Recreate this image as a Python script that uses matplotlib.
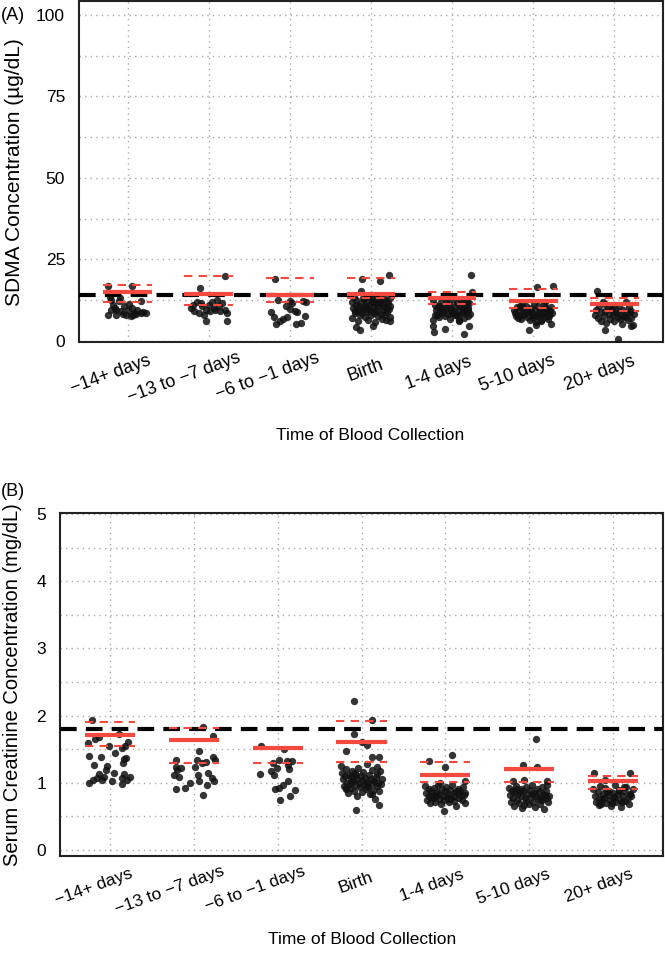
import matplotlib
matplotlib.use("Agg")
import matplotlib.pyplot as plt
import matplotlib.transforms as mtrans
import numpy as np

plt.rcParams['font.family'] = ['Liberation Sans', 'DejaVu Sans']

groups = ['\u221214+ days', '\u221213 to \u22127 days', '\u22126 to \u22121 days',
          'Birth', '1-4 days', '5-10 days', '20+ days']

# ---- panel A: SDMA (ug/dL) ----
sdma_vals = [
    [16.9, 16.9, 12.3, 13.5, 11.0, 9.5, 8.0, 7.8, 8.3, 9.3,
     7.6, 8.2, 8.5, 8.6, 10.5, 12.2, 12.4, 11.3, 9.0, 8.0,
     9.4, 7.9, 8.8, 10.0, 8.6, 13.0, 10.0, 9.5],
    [20.0, 16.2, 6.0, 6.0, 10.0, 9.0, 8.5, 10.5, 9.5, 11.0,
     12.0, 9.5, 10.5, 11.5, 9.5, 11.0, 12.0, 8.0, 10.0, 12.5,
     8.5, 9.0, 11.5, 9.0],
    [19.0, 12.5, 12.2, 8.8, 7.2, 5.0, 6.6, 7.4, 9.7, 9.2,
     11.5, 12.1, 7.7, 5.2, 5.4, 8.7, 10.5, 6.0, 11.8],
    [19.0, 18.2, 20.3, 15.2, 4.2, 3.4, 4.4, 6.0,
     11.8, 10.0, 8.5, 7.0, 12.5, 9.2, 10.8, 6.2, 8.0, 11.5,
     13.2, 9.8, 7.2, 10.5, 12.0, 8.8, 6.5, 11.0, 9.5, 13.0,
     7.8, 10.2, 12.3, 8.5, 5.8, 11.2, 9.0, 13.5, 7.5, 10.5,
     12.0, 8.2, 6.8, 11.0, 9.5, 13.0, 7.8, 10.0, 12.2, 8.8,
     11.5, 9.8, 13.2, 7.2, 10.8, 13.5, 11.0, 12.8, 11.8, 12.8,
     9.8, 10.0, 9.5, 10.2, 9.0, 8.5, 11.5, 13.8, 6.5, 9.0],
    [20.3, 14.8, 2.6, 3.6, 2.1, 4.6, 4.6, 6.3,
     12.5, 11.0, 9.5, 8.0, 10.2, 7.2, 11.8, 9.0, 8.5, 10.8,
     7.5, 12.0, 9.8, 8.2, 11.2, 6.8, 10.0, 8.8, 12.8, 9.2,
     7.8, 10.5, 11.5, 8.0, 9.5, 6.5, 10.8, 12.2, 8.5, 9.0,
     11.0, 7.0, 10.2, 8.8, 12.0, 9.5, 7.5, 11.5, 8.2, 10.0,
     9.0, 13.0, 7.8, 10.5, 8.5, 11.8, 9.8, 6.0, 10.0, 8.0],
    [16.4, 16.8, 3.2, 4.7, 5.2,
     9.5, 8.5, 7.5, 10.2, 8.0, 9.0, 6.8, 11.0, 7.8, 9.8,
     8.2, 10.5, 7.2, 9.2, 8.8, 6.5, 10.0, 8.5, 7.0, 11.5,
     9.5, 8.0, 7.5, 10.8, 8.6, 9.0, 6.2, 7.8, 9.8, 8.3,
     11.2, 7.3, 8.9, 10.0, 9.4, 6.8, 8.1, 7.6, 9.1, 10.4,
     8.4, 7.0, 9.6, 5.8, 8.7, 11.8, 7.9, 9.3, 6.4, 10.6],
    [15.4, 0.6, 3.2, 4.4,
     8.0, 9.5, 7.0, 10.5, 6.2, 8.8, 11.8, 7.5, 9.0, 5.5,
     10.0, 8.2, 6.8, 9.8, 7.8, 11.0, 6.0, 8.5, 9.2, 7.2,
     10.8, 8.0, 5.0, 9.5, 7.6, 12.0, 8.6, 6.5, 10.2, 7.0,
     9.0, 4.8, 8.3, 11.2, 6.8, 9.6, 7.4, 8.9],
]
sdma_jitter = [
    [-0.24, 0.05, 0.16, -0.22, -0.18, -0.14, -0.24, -0.15, -0.06, 0.0,
     0.04, 0.1, 0.16, 0.22, -0.04, -0.11, -0.2, 0.02, -0.08, 0.07,
     0.12, -0.02, 0.19, -0.16, 0.08, -0.1, 0.05, -0.2],
    [0.2, -0.11, -0.03, 0.23, -0.22, -0.18, -0.12, -0.08, -0.04, 0.0,
     0.04, 0.08, 0.12, 0.16, 0.2, -0.2, -0.15, -0.06, 0.06, 0.1,
     0.22, 0.14, -0.1, 0.02],
    [-0.18, -0.15, 0.0, -0.23, -0.19, -0.17, -0.09, -0.04, 0.0, 0.06,
     0.02, 0.16, 0.19, 0.07, 0.14, 0.09, -0.05, -0.12, 0.2],
    [-0.11, 0.11, 0.22, -0.12, -0.18, -0.14, 0.02, 0.23,
     -0.24, -0.22, -0.2, -0.23, -0.19, -0.17, -0.15, -0.16, -0.13, -0.12,
     -0.1, -0.1, -0.08, -0.07, -0.06, -0.05, -0.04, -0.03, -0.02, 0.0,
     0.0, 0.01, 0.03, 0.04, 0.05, 0.06, 0.07, 0.08, 0.09, 0.1,
     0.11, 0.12, 0.13, 0.14, 0.15, 0.16, 0.17, 0.18, 0.19, 0.2,
     0.21, 0.22, 0.23, 0.24, 0.24, -0.21, -0.18, -0.09, 0.02, 0.13,
     -0.14, -0.06, 0.05, 0.16, -0.2, -0.11, 0.09, -0.03, 0.19, -0.01],
    [0.23, 0.25, -0.22, -0.09, 0.15, 0.21, -0.24, -0.24,
     -0.23, -0.21, -0.2, -0.19, -0.17, -0.16, -0.14, -0.13, -0.12, -0.1,
     -0.09, -0.08, -0.07, -0.05, -0.04, -0.03, -0.02, 0.0, 0.01, 0.02,
     0.03, 0.04, 0.06, 0.07, 0.08, 0.09, 0.1, 0.11, 0.12, 0.13,
     0.14, 0.15, 0.16, 0.17, 0.18, 0.19, 0.2, 0.21, 0.22, -0.18,
     -0.11, -0.06, 0.05, -0.15, 0.0, 0.14, -0.01, 0.08, 0.2, -0.21],
    [0.05, 0.24, -0.05, 0.03, 0.22,
     -0.24, -0.22, -0.21, -0.2, -0.18, -0.17, -0.15, -0.14, -0.13, -0.11,
     -0.1, -0.09, -0.08, -0.06, -0.05, -0.04, -0.03, -0.02, 0.0, 0.01,
     0.02, 0.03, 0.05, 0.06, 0.07, 0.08, 0.09, 0.1, 0.11, 0.12,
     0.13, 0.14, 0.15, 0.16, 0.17, 0.18, 0.19, 0.2, 0.21, 0.22,
     0.23, -0.19, -0.12, 0.04, -0.07, 0.15, 0.0, 0.18, 0.1, -0.16],
    [-0.21, 0.04, -0.11, 0.21,
     -0.24, -0.22, -0.2, -0.19, -0.17, -0.16, -0.14, -0.13, -0.11, -0.1,
     -0.08, -0.07, -0.05, -0.04, -0.02, -0.01, 0.0, 0.02, 0.03, 0.05,
     0.06, 0.08, 0.09, 0.11, 0.12, 0.14, 0.15, 0.17, 0.18, 0.2,
     0.21, 0.23, 0.24, -0.12, 0.07, -0.03, 0.13, 0.19],
]
sdma_mid = [15.1, 14.4, 13.9, 14.3, 13.1, 12.1, 11.4]
sdma_hi = [17.1, 20.0, 19.2, 19.2, 15.1, 16.0, 13.0]
sdma_lo = [12.0, 11.0, 12.0, 13.0, 11.2, 10.0, 9.0]
sdma_ref = 14

# ---- panel B: serum creatinine (mg/dL) ----
creat_vals = [
    [1.94, 1.73, 1.59, 1.65, 1.68, 1.54, 1.51, 1.61, 1.54, 1.40,
     1.39, 1.44, 1.35, 1.37, 1.27, 1.25, 1.29, 1.19, 1.13, 1.15,
     1.13, 1.04, 0.99, 1.07, 1.04, 1.08, 1.03, 1.07, 0.98, 1.09, 1.04],
    [1.83, 1.69, 1.47, 1.34, 1.24, 1.19, 1.22, 1.12, 1.09, 0.90,
     0.92, 0.99, 1.24, 1.34, 1.12, 1.03, 1.29, 1.31, 1.14, 1.39,
     1.34, 0.97, 0.82, 1.07, 1.03],
    [1.55, 1.50, 1.13, 1.29, 1.22, 1.12, 1.34, 1.27, 1.32, 1.33,
     1.20, 1.02, 0.97, 0.92, 0.90, 0.89, 0.80, 0.74, 1.18],
    [2.21, 1.93, 1.72, 1.61, 1.56, 1.48, 1.39, 1.39, 0.67, 0.60,
     1.25, 1.15, 1.05, 0.95, 1.10, 0.90, 1.20, 1.00, 0.85, 1.12,
     0.98, 1.08, 0.92, 1.18, 1.02, 0.88, 1.14, 0.96, 1.06, 0.80,
     1.22, 1.00, 0.93, 1.10, 1.04, 0.86, 1.16, 0.97, 1.07, 0.91,
     1.28, 1.01, 0.94, 1.12, 0.83, 1.05, 0.99, 1.19, 0.89, 1.03,
     0.76, 1.09, 0.95, 1.13, 1.00, 0.87, 1.17, 0.98, 1.06, 0.92,
     1.24, 1.02, 0.84, 1.11, 0.96],
    [1.33, 1.41, 1.23, 1.02,
     0.95, 0.85, 0.75, 0.90, 0.80, 0.70, 0.88, 0.78, 0.92, 0.82,
     0.72, 0.86, 0.96, 0.76, 0.84, 0.68, 0.90, 0.80, 0.74, 0.87,
     0.93, 0.79, 0.83, 0.71, 0.89, 0.77, 0.97, 0.81, 0.73, 0.86,
     0.66, 0.91, 0.78, 0.84, 0.58, 0.88, 0.75, 0.94, 0.82, 0.70,
     0.85, 0.79, 0.99, 0.76, 0.87, 0.81],
    [1.65, 1.26, 1.24, 1.03, 1.04, 1.03,
     0.92, 0.82, 0.72, 0.88, 0.78, 0.66, 0.86, 0.95, 0.75, 0.84,
     0.70, 0.90, 0.80, 0.62, 0.87, 0.77, 0.93, 0.73, 0.83, 0.68,
     0.89, 0.79, 0.96, 0.71, 0.85, 0.64, 0.81, 0.91, 0.76, 0.86,
     0.69, 0.94, 0.74, 0.83, 0.61, 0.88, 0.78, 0.97, 0.72, 0.80,
     0.90, 0.67, 0.84, 0.76, 0.87, 0.82],
    [1.15, 1.15, 1.04, 0.93,
     0.90, 0.80, 0.72, 0.86, 0.76, 0.95, 0.68, 0.84, 0.78, 0.92,
     0.70, 0.82, 0.88, 0.74, 0.66, 0.85, 0.79, 0.97, 0.71, 0.83,
     0.89, 0.75, 0.64, 0.81, 0.87, 0.73, 0.93, 0.77, 0.69, 0.84,
     0.80, 0.91, 0.67, 0.86, 0.78, 0.72, 0.83, 0.76, 0.88, 0.70],
]
creat_jitter = [
    [-0.22, 0.1, -0.26, -0.18, -0.13, -0.02, 0.14, 0.21, 0.18, -0.25,
     -0.11, 0.06, 0.16, 0.19, -0.2, -0.04, 0.15, -0.05, -0.14, 0.05,
     0.17, -0.21, -0.25, -0.16, -0.1, -0.07, 0.02, 0.14, 0.14, 0.24, 0.2],
    [0.11, 0.23, 0.06, -0.21, -0.22, -0.2, -0.16, -0.24, -0.18, -0.22,
     -0.11, -0.05, 0.01, 0.04, 0.05, 0.06, 0.09, 0.14, 0.17, 0.23,
     0.25, 0.15, 0.11, 0.22, 0.24],
    [-0.2, 0.08, -0.21, -0.06, -0.01, -0.04, 0.02, 0.12, 0.11, 0.17,
     0.13, 0.12, 0.06, 0.02, -0.03, 0.21, 0.15, 0.03, -0.08],
    [-0.09, 0.12, -0.09, 0.0, 0.06, -0.19, 0.12, 0.21, 0.21, -0.06,
     -0.24, -0.23, -0.22, -0.21, -0.2, -0.19, -0.18, -0.17, -0.16, -0.15,
     -0.14, -0.13, -0.12, -0.11, -0.1, -0.09, -0.08, -0.07, -0.06, -0.05,
     -0.04, -0.03, -0.02, -0.01, 0.0, 0.01, 0.02, 0.03, 0.04, 0.05,
     0.06, 0.07, 0.08, 0.09, 0.1, 0.11, 0.12, 0.13, 0.14, 0.15,
     0.16, 0.17, 0.18, 0.19, 0.2, 0.21, 0.22, 0.23, 0.24, -0.18,
     0.18, -0.12, 0.12, -0.06, 0.06],
    [-0.19, 0.08, 0.0, 0.23,
     -0.24, -0.23, -0.22, -0.2, -0.19, -0.18, -0.17, -0.15, -0.14, -0.13,
     -0.12, -0.1, -0.09, -0.08, -0.07, -0.05, -0.04, -0.03, -0.02, 0.0,
     0.01, 0.02, 0.03, 0.05, 0.06, 0.07, 0.08, 0.1, 0.11, 0.12,
     0.13, 0.15, 0.16, 0.17, -0.01, 0.18, 0.2, 0.21, 0.22, 0.23,
     0.24, -0.16, -0.06, 0.04, 0.14, -0.11],
    [0.08, -0.07, 0.09, -0.19, -0.06, 0.21,
     -0.24, -0.23, -0.22, -0.2, -0.19, -0.18, -0.17, -0.15, -0.14, -0.13,
     -0.12, -0.1, -0.09, -0.08, -0.07, -0.05, -0.04, -0.03, -0.02, 0.0,
     0.01, 0.02, 0.03, 0.05, 0.06, 0.07, 0.08, 0.1, 0.11, 0.12,
     0.13, 0.15, 0.16, 0.17, 0.18, 0.2, 0.21, 0.22, 0.23, 0.24,
     -0.16, -0.06, 0.04, 0.14, -0.11, 0.19],
    [-0.22, 0.21, -0.09, 0.13,
     -0.23, -0.21, -0.2, -0.18, -0.17, -0.15, -0.14, -0.12, -0.11, -0.09,
     -0.08, -0.06, -0.05, -0.03, -0.02, 0.0, 0.01, 0.03, 0.04, 0.06,
     0.07, 0.09, 0.1, 0.12, 0.13, 0.15, 0.16, 0.18, 0.19, 0.21,
     0.22, 0.24, -0.16, -0.07, 0.02, 0.11, 0.2, -0.13, 0.08, -0.01],
]
creat_mid = [1.71, 1.64, 1.51, 1.61, 1.11, 1.20, 1.02]
creat_hi = [1.91, 1.81, 1.51, 1.92, 1.31, 1.20, 1.10]
creat_lo = [1.55, 1.30, 1.30, 1.31, 1.01, 1.01, 0.90]
creat_ref = 1.8

W, H = 665, 961
fig = plt.figure(figsize=(W / 100, H / 100), dpi=100)
renderer = fig.canvas.get_renderer()
ANG = 20
HJUST = 0.75


def px_axes(l, t, r, b):
    return fig.add_axes([l / W, 1 - b / H, (r - l) / W, (b - t) / H])


def draw_panel(ax, vals, jit, mid, hi, lo, ref, ylim, major, minor, xfs):
    pos = np.arange(1, len(groups) + 1)
    for i in range(len(groups)):
        x = pos[i] + np.array(jit[i])
        ax.scatter(x, vals[i], s=28, color='#111111', alpha=0.85,
                   linewidths=0, zorder=3)
    ax.axhline(ref, color='black', lw=3, dashes=(4, 2.2), zorder=4)
    ax.hlines(mid, pos - 0.3, pos + 0.3, color='#f5483f', lw=3, zorder=5)
    ax.hlines(hi, pos - 0.3, pos + 0.3, color='#f5483f', lw=1.5,
              linestyles=(0, (4, 3)), zorder=5)
    ax.hlines(lo, pos - 0.3, pos + 0.3, color='#f5483f', lw=1.5,
              linestyles=(0, (4, 3)), zorder=5)
    ax.set_xlim(0.4, 7.6)
    ax.set_ylim(*ylim)
    ax.set_xticks(pos)
    ax.set_xticklabels([])
    ax.set_yticks(major)
    ax.set_yticks(minor, minor=True)
    ax.tick_params(axis='both', which='both', length=0)
    ax.tick_params(axis='y', pad=10, labelsize=12.5)
    ax.grid(True, which='both', axis='y', color='#aaaaaa', lw=1,
            linestyle=(0, (1, 3)))
    ax.grid(True, which='major', axis='x', color='#aaaaaa', lw=1,
            linestyle=(0, (1, 3)))
    ax.set_axisbelow(True)
    for s in ax.spines.values():
        s.set_linewidth(1.5)
        s.set_color('#222222')

    # rotated category labels, anchored at 3/4 of their width (like hjust=0.75)
    base = mtrans.blended_transform_factory(ax.transData, ax.transAxes)
    c, sn = np.cos(np.radians(ANG)), np.sin(np.radians(ANG))
    for p, lab in zip(pos, groups):
        t = ax.text(p, 0, lab, fontsize=xfs, rotation=ANG,
                    rotation_mode='anchor', ha='right', va='top')
        w = renderer.get_text_width_height_descent(
            lab, t.get_fontproperties(), ismath=False)[0]
        dx = (1 - HJUST) * w * c
        dy = (1 - HJUST) * w * sn - 17
        t.set_transform(base + mtrans.ScaledTranslation(
            dx / 100, dy / 100, fig.dpi_scale_trans))


axA = px_axes(79, 1, 663, 342)
draw_panel(axA, sdma_vals, sdma_jitter, sdma_mid, sdma_hi, sdma_lo, sdma_ref,
           (-0.4, 104.3), [0, 25, 50, 75, 100], [12.5, 37.5, 62.5, 87.5], 13)

axB = px_axes(60, 513, 663, 856)
draw_panel(axB, creat_vals, creat_jitter, creat_mid, creat_hi, creat_lo,
           creat_ref, (-0.09, 5.015), [0, 1, 2, 3, 4, 5],
           [0.5, 1.5, 2.5, 3.5, 4.5], 12.5)

fig.text(15 / W, 1 - 172 / H, 'SDMA Concentration (\u00b5g/dL)', rotation=90,
         ha='center', va='center', fontsize=15)
fig.text(13 / W, 1 - 685 / H, 'Serum Creatinine Concentration (mg/dL)',
         rotation=90, ha='center', va='center', fontsize=14.5)
fig.text(370 / W, 1 - 436 / H, 'Time of Blood Collection', ha='center',
         va='center', fontsize=12.5)
fig.text(362 / W, 1 - 940 / H, 'Time of Blood Collection', ha='center',
         va='center', fontsize=12.5)
fig.text(1 / W, 1 - 15 / H, '(A)', ha='left', va='center', fontsize=13)
fig.text(1 / W, 1 - 492 / H, '(B)', ha='left', va='center', fontsize=13)

fig.savefig('out.png', dpi=100)
